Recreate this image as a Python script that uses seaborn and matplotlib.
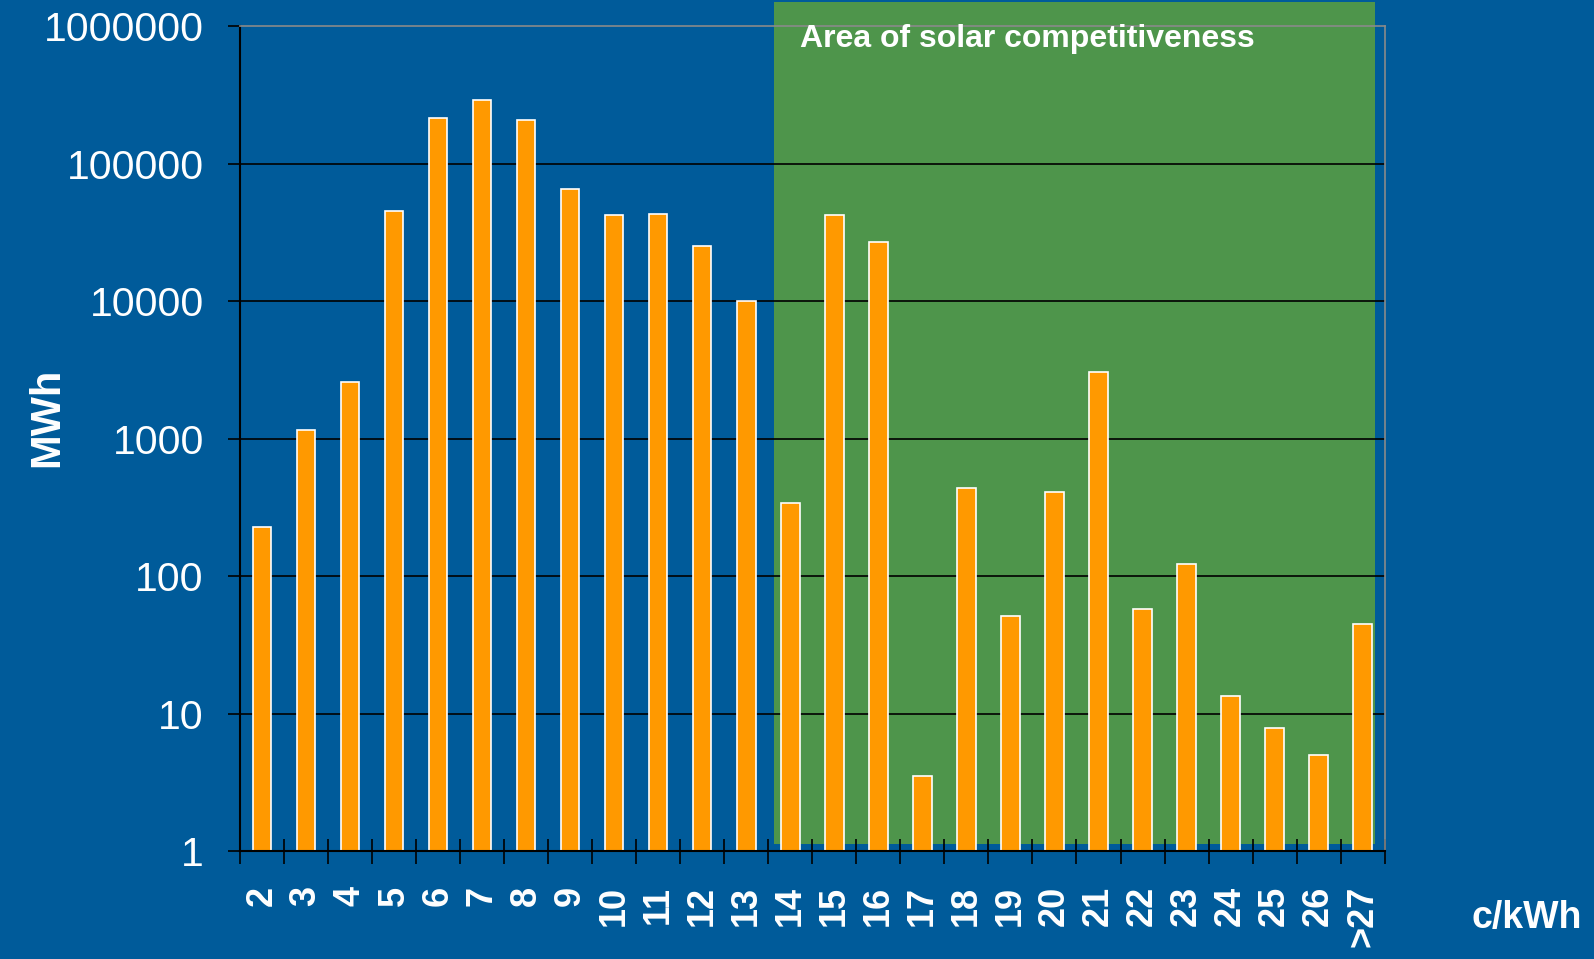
import matplotlib
matplotlib.use("Agg")
import matplotlib.pyplot as plt
import seaborn as sns
import pandas as pd
from matplotlib.patches import Rectangle
from matplotlib.ticker import FixedLocator, NullLocator

# data (MWh per price band, c/kWh)
categories = ["2", "3", "4", "5", "6", "7", "8", "9", "10", "11", "12", "13", "14",
              "15", "16", "17", "18", "19", "20", "21", "22", "23", "24", "25", "26", ">27"]
mwh = [229, 1150, 2570, 45700, 215000, 292000, 208000, 65300, 42700, 43400, 25200, 10000, 339,
       42700, 26900, 3.5, 437, 51, 408, 3050, 57.6, 122, 13.5, 7.85, 4.96, 44.6]
ytick_vals = [1, 10, 100, 1000, 10000, 100000, 1000000]
ytick_labels = ["1", "10", "100", "1000", "10000", "100000", "1000000"]

blue = "#005B9A"
green = "#4E954B"
orange = "#FF9900"

df = pd.DataFrame({"price": categories, "MWh": mwh})

sns.set_style("white")
plt.rcParams["font.family"] = ["Liberation Sans", "DejaVu Sans"]

fig = plt.figure(figsize=(15.94, 9.59), dpi=100, facecolor=blue)
ax = fig.add_axes([0.1505, 0.1126, 0.7182, 0.8599])
ax.set_facecolor(blue)

# area of solar competitiveness (goes a bit above the plot frame)
ax.add_patch(Rectangle((11.62, 1.13), 25.27 - 11.62, 1.5e6 - 1.13,
                       facecolor=green, edgecolor="none", zorder=0.2, clip_on=False))

sns.barplot(data=df, x="price", y="MWh", color=orange, edgecolor="white",
            linewidth=1.2, width=0.42, saturation=1, ax=ax, zorder=2)

ax.set_yscale("log")
ax.set_ylim(1, 1e6)
ax.set_xlim(-0.5, len(categories) - 0.5)

# gridlines at each decade
for v in ytick_vals[1:-1]:
    ax.axhline(v, color="black", lw=1.2, zorder=1)

ax.yaxis.set_major_locator(FixedLocator(ytick_vals))
ax.yaxis.set_minor_locator(NullLocator())
ax.set_yticklabels(ytick_labels)
ax.tick_params(axis="y", colors="black", labelcolor="white", labelsize=29.5,
               direction="out", length=9, width=1.2, pad=17, left=True)

ax.set_xticks(range(len(categories)))
ax.set_xticklabels(categories, rotation=90, va="top", ha="center", fontweight="bold")
ax.xaxis.set_minor_locator(FixedLocator([i - 0.5 for i in range(len(categories) + 1)]))
ax.tick_params(axis="x", which="major", length=0, labelcolor="white", labelsize=26, pad=25)
ax.tick_params(axis="x", which="minor", direction="inout", length=18, width=1.2,
               color="black", bottom=True)

for side in ["left", "bottom"]:
    ax.spines[side].set_color("black")
    ax.spines[side].set_linewidth(1.5)
for side in ["top", "right"]:
    ax.spines[side].set_color("#8a8a8a")
    ax.spines[side].set_linewidth(1.2)

ax.set_xlabel("")
ax.set_ylabel("MWh", color="white", fontsize=30, fontweight="bold")
ax.yaxis.set_label_coords(-0.151, 0.526)

ax.text(12.22, 0.985, "Area of solar competitiveness", transform=ax.get_xaxis_transform(),
        color="white", fontsize=23, fontweight="bold", va="center", ha="left")
fig.text(0.923, 0.043, "c/kWh", color="white", fontsize=27, fontweight="bold",
         va="center", ha="left")

fig.savefig("out.png", dpi=100, facecolor=blue)
